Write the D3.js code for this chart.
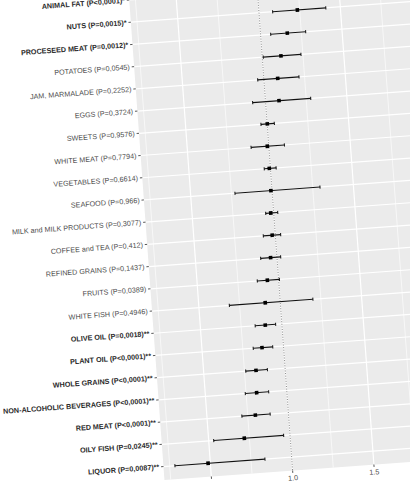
<!DOCTYPE html>
<html>
<head>
<meta charset="utf-8">
<script src="https://cdnjs.cloudflare.com/ajax/libs/d3/7.8.5/d3.min.js"></script>
<style>
  html, body { margin: 0; padding: 0; background: #ffffff; overflow: hidden; }
  svg { display: block; }
</style>
</head>
<body>
<script>
// ---- data (top row to bottom row) ----
const categories = [
  "ANIMAL FAT (P<0,0001)*",
  "NUTS (P=0,0015)*",
  "PROCESEED MEAT (P=0,0012)*",
  "POTATOES (P=0,0545)",
  "JAM, MARMALADE (P=0,2252)",
  "EGGS (P=0,3724)",
  "SWEETS (P=0,9576)",
  "WHITE MEAT (P=0,7794)",
  "VEGETABLES (P=0,6614)",
  "SEAFOOD (P=0,966)",
  "MILK and MILK PRODUCTS (P=0,3077)",
  "COFFEE and TEA (P=0,412)",
  "REFINED GRAINS (P=0,1437)",
  "FRUITS (P=0,0389)",
  "WHITE FISH (P=0,4946)",
  "OLIVE OIL (P=0,0018)**",
  "PLANT OIL (P<0,0001)**",
  "WHOLE GRAINS (P<0,0001)**",
  "NON-ALCOHOLIC BEVERAGES (P<0,0001)**",
  "RED MEAT (P<0,0001)**",
  "OILY FISH (P=0,0245)**",
  "LIQUOR (P=0,0087)**"
];
const estimates = [1.33, 1.236, 1.164, 1.115, 1.085, 1.083, 1.001, 0.991, 0.993, 0.993, 0.982,
                   0.981, 0.961, 0.931, 0.908, 0.898, 0.868, 0.821, 0.815, 0.797, 0.719, 0.486];
const lowerCI   = [1.10, 1.084, 1.062, 1.006, 0.962, 0.921, 0.962, 0.891, 0.962, 0.772, 0.951,
                   0.926, 0.900, 0.869, 0.687, 0.836, 0.814, 0.758, 0.745, 0.714, 0.531, 0.282];
const upperCI   = [1.62, 1.411, 1.277, 1.238, 1.216, 1.278, 1.044, 1.096, 1.035, 1.295, 1.025,
                   1.033, 1.023, 1.005, 1.201, 0.962, 0.934, 0.891, 0.889, 0.888, 0.961, 0.836];
const xMajorTicks = [0.5, 1.0, 1.5, 2.0];
const xTickLabels = ["0.5", "1.0", "1.5", "2.0"];
const xMinorTicks = [0.25, 0.75, 1.25, 1.75, 2.25];
const referenceValue = 1.0;

// ---- layout ----
const W = 410, H = 481;
const panelLeft = 147, panelRight = 600, panelTop = -40, panelBottom = 476.3;
const font = "'Liberation Sans', Arial, Helvetica, sans-serif";
const fs = 7.2;

const svg = d3.select("body").append("svg").attr("width", W).attr("height", H);
const g = svg.append("g").attr("transform", "rotate(-4.2,205,240)");

const x = d3.scaleLinear().domain([0.2117, 2.5]).range([panelLeft, panelLeft + (2.5 - 0.2117) * 163]);
const y = d3.scalePoint().domain(categories).range([-4.9, 462.9]);

// panel
g.append("rect").attr("x", panelLeft).attr("y", panelTop)
  .attr("width", panelRight - panelLeft).attr("height", panelBottom - panelTop)
  .attr("fill", "#EBEBEB");

// grid
g.selectAll(".vminor").data(xMinorTicks).enter().append("line")
  .attr("x1", d => x(d)).attr("x2", d => x(d)).attr("y1", panelTop).attr("y2", panelBottom)
  .attr("stroke", "#fff").attr("stroke-width", 0.6);
g.selectAll(".vmajor").data(xMajorTicks).enter().append("line")
  .attr("x1", d => x(d)).attr("x2", d => x(d)).attr("y1", panelTop).attr("y2", panelBottom)
  .attr("stroke", "#fff").attr("stroke-width", 1.2);
g.selectAll(".hmajor").data(categories).enter().append("line")
  .attr("x1", panelLeft).attr("x2", panelRight).attr("y1", d => y(d)).attr("y2", d => y(d))
  .attr("stroke", "#fff").attr("stroke-width", 1.2);

// reference line
g.append("line").attr("x1", x(referenceValue)).attr("x2", x(referenceValue))
  .attr("y1", panelTop).attr("y2", panelBottom)
  .attr("stroke", "#707070").attr("stroke-width", 0.8).attr("stroke-dasharray", "1,1.6");

// error bars
const rows = categories.map((c, i) => ({ c, est: estimates[i], lo: lowerCI[i], hi: upperCI[i] }));
const eb = g.selectAll(".eb").data(rows).enter().append("g");
eb.append("line").attr("x1", d => x(d.lo)).attr("x2", d => x(d.hi))
  .attr("y1", d => y(d.c)).attr("y2", d => y(d.c)).attr("stroke", "#111").attr("stroke-width", 1.1);
eb.append("line").attr("x1", d => x(d.lo)).attr("x2", d => x(d.lo))
  .attr("y1", d => y(d.c) - 1.6).attr("y2", d => y(d.c) + 1.6).attr("stroke", "#111").attr("stroke-width", 1);
eb.append("line").attr("x1", d => x(d.hi)).attr("x2", d => x(d.hi))
  .attr("y1", d => y(d.c) - 1.6).attr("y2", d => y(d.c) + 1.6).attr("stroke", "#111").attr("stroke-width", 1);
eb.append("rect").attr("x", d => x(d.est) - 1.8).attr("y", d => y(d.c) - 1.8)
  .attr("width", 3.6).attr("height", 3.6).attr("fill", "#000");

// y axis ticks and labels
g.selectAll(".ytick").data(categories).enter().append("line")
  .attr("x1", panelLeft - 2.4).attr("x2", panelLeft).attr("y1", d => y(d)).attr("y2", d => y(d))
  .attr("stroke", "#333").attr("stroke-width", 0.8);
g.selectAll(".ylab").data(categories).enter().append("text")
  .attr("x", panelLeft - 4.3).attr("y", d => y(d)).attr("dy", "0.35em")
  .attr("text-anchor", "end").attr("font-family", font).attr("font-size", fs)
  .attr("font-weight", d => d.endsWith("*") ? "bold" : "normal")
  .attr("fill", d => d.endsWith("*") ? "#2a2a2a" : "#4D4D4D")
  .text(d => d);

// x axis ticks and labels
g.selectAll(".xtick").data(xMajorTicks).enter().append("line")
  .attr("x1", d => x(d)).attr("x2", d => x(d)).attr("y1", panelBottom).attr("y2", panelBottom + 2.4)
  .attr("stroke", "#333").attr("stroke-width", 0.8);
g.selectAll(".xlab").data(xMajorTicks).enter().append("text")
  .attr("x", d => x(d)).attr("y", panelBottom + 4.2).attr("dy", "0.8em")
  .attr("text-anchor", "middle").attr("font-family", font).attr("font-size", fs)
  .attr("fill", "#4D4D4D")
  .text((d, i) => xTickLabels[i]);
</script>
</body>
</html>
